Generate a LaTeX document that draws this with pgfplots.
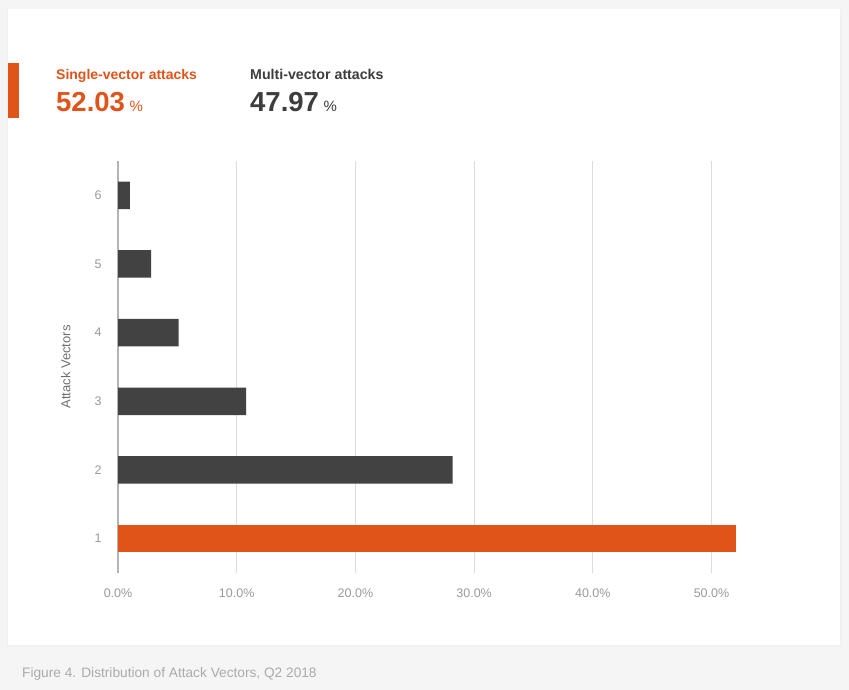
\documentclass[border=0pt]{standalone}
\usepackage{pgfplots}
\pgfplotsset{compat=1.18}
\usepackage{fontspec}
\setmainfont{Liberation Sans}
\definecolor{orng}{HTML}{E0541A}
\definecolor{darkbar}{HTML}{424242}
\definecolor{bggray}{HTML}{F5F5F5}
\definecolor{gridgray}{HTML}{DCDCDC}
\definecolor{axisgray}{HTML}{B4B4B4}
\definecolor{ticktext}{HTML}{9A9A9A}
\definecolor{labeltext}{HTML}{707070}
\definecolor{captext}{HTML}{ABABAB}
\definecolor{headdark}{HTML}{3D3D3D}
\begin{document}
\begin{tikzpicture}
\fill[bggray] (0pt,0pt) rectangle (849pt,690pt);
\fill[black!6] (7pt,43pt) rectangle (842pt,681pt);
\fill[white] (8pt,45pt) rectangle (840pt,681pt);
\fill[orng] (8pt,572pt) rectangle (19pt,627pt);
\node[anchor=base west, inner sep=0, text=orng] at (56pt,610.5pt) {\fontsize{14}{16}\selectfont\bfseries Single-vector attacks};
\node[anchor=base west, inner sep=0, text=orng] at (56pt,578.5pt) {\fontsize{27.5}{32}\selectfont\bfseries 52.03\,\fontsize{15}{17}\selectfont\mdseries\%};
\node[anchor=base west, inner sep=0, text=headdark] at (250pt,610.5pt) {\fontsize{14.2}{16}\selectfont\bfseries Multi-vector attacks};
\node[anchor=base west, inner sep=0, text=headdark] at (250pt,578.5pt) {\fontsize{27.5}{32}\selectfont\bfseries 47.97\,\fontsize{15}{17}\selectfont\mdseries\%};
\node[anchor=base west, inner sep=0, text=captext] at (22pt,12pt) {\fontsize{13.7}{16}\selectfont Figure 4. Distribution of Attack Vectors, Q2 2018};
\begin{axis}[
  at={(118pt,117pt)}, anchor=south west,
  scale only axis, width=652.85pt, height=412pt,
  xmin=0, xmax=55, ymin=0.5, ymax=6.5,
  axis line style={draw=none},
  major tick length=0pt,
  xtick={0,10,...,50},
  ytick={1,...,6},
  xmajorgrids,
  grid style={draw=gridgray, line width=1.2pt},
  extra x ticks={0}, extra x tick labels={},
  extra x tick style={grid style={draw=axisgray, line width=1.2pt}},
  /pgf/number format/assume math mode=true,
  xticklabel={\pgfmathprintnumber[fixed,fixed zerofill,precision=1]{\tick}\%},
  xticklabel style={font=\fontsize{12.5}{14}\selectfont, text=ticktext, yshift=-12pt},
  yticklabel style={font=\fontsize{12.5}{14}\selectfont, text=ticktext, xshift=-13pt},
  ylabel={Attack Vectors},
  every axis y label/.style={at={(axis description cs:0,0.5)}, rotate=90, anchor=south, yshift=44pt, font=\fontsize{13}{15}\selectfont, text=labeltext},
]
\addplot[xbar, bar width=27.5pt, bar shift=0pt, fill=darkbar, draw=none] coordinates {(28.2,2) (10.8,3) (5.1,4) (2.8,5) (1.0,6)};
\addplot[xbar, bar width=27.5pt, bar shift=0pt, fill=orng, draw=none] coordinates {(52.03,1)};
\end{axis}
\end{tikzpicture}
\end{document}
